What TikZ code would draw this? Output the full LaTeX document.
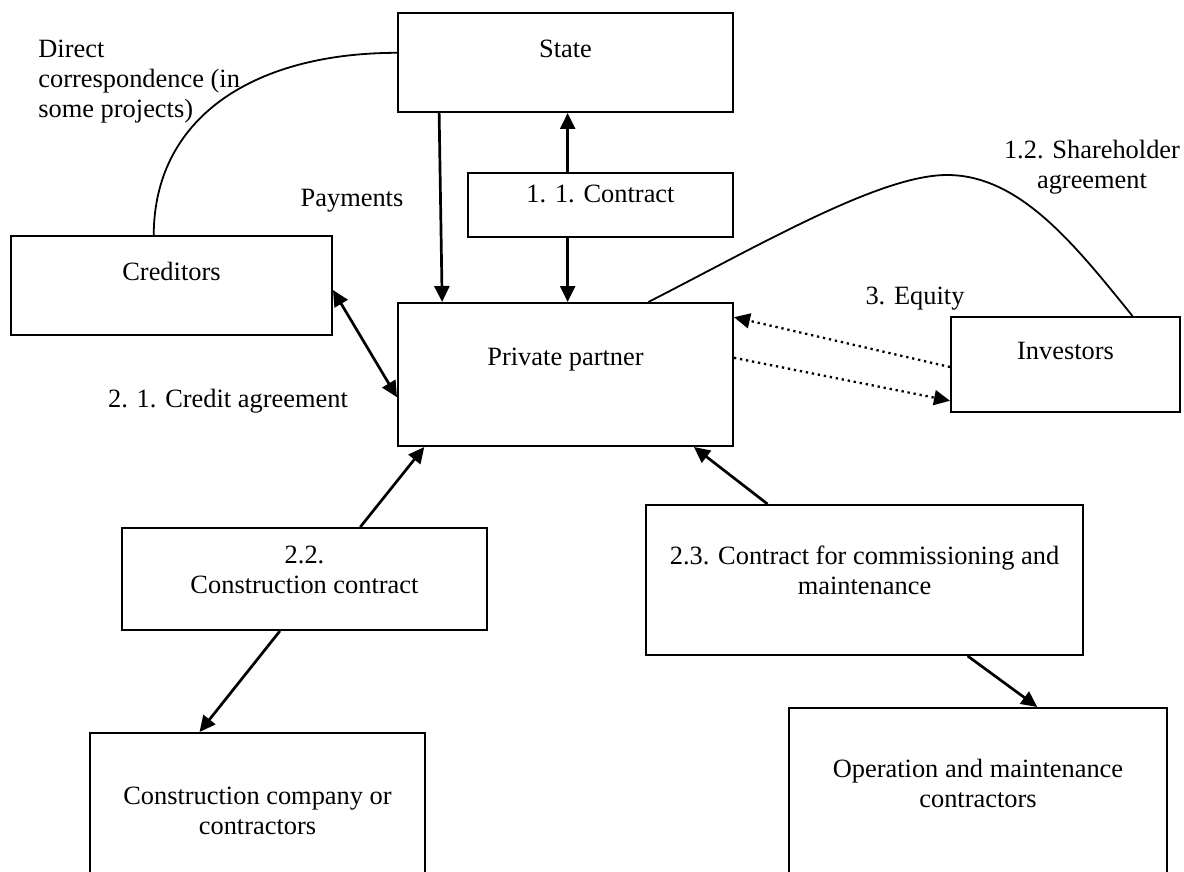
\documentclass[tikz,border=0pt]{standalone}
\usepackage{fontspec}
\setmainfont{Liberation Serif}
\usetikzlibrary{arrows.meta,fit,calc}
\newcommand\diagfont{\fontsize{13.2pt}{15pt}\selectfont}
\newcommand\upby[2]{\raisebox{#1}[\height][\depth]{#2}}
\begin{document}
\begin{tikzpicture}[x=0.5pt,y=-0.5pt,
  tip/.tip={Triangle[length=8pt,width=7.5pt]},
  box/.style={draw, line width=1pt, inner sep=0pt, align=center, font=\diagfont},
  lbl/.style={inner sep=0pt, font=\diagfont},
  arr/.style={line width=1.35pt, -tip},
  darr/.style={line width=1.35pt, tip-tip},
  dotarr/.style={line width=1.15pt, dash pattern=on 1.15pt off 1.9pt, -tip},
  curveline/.style={line width=0.9pt}]
\useasboundingbox (0,0) rectangle (1184,872);
\clip (0,0) rectangle (1184,872);
% boxes
\node[box, fit={(398,13) (733,112)}] (state) {\upby{2.6pt}{State}};
\node[box, fit={(468,173) (733,237)}] (contract) {\upby{1.25pt}{1. 1. Contract}};
\node[box, fit={(11,236) (332,335)}] (cred) {\upby{2.4pt}{Creditors}};
\node[box, fit={(398,303) (733,446)}] (pp) {\upby{2.9pt}{Private partner}};
\node[box, fit={(951,317) (1180,412)}] (inv) {\upby{2.6pt}{Investors}};
\node[box, fit={(122,528) (487,630)}] (cc22) {2.2.\\Construction contract};
\node[box, fit={(646,505) (1083,655)}] (om23) {2.3. Contract for commissioning and\\maintenance};
\node[box, fit={(90,733) (425,907)}] (ccomp) {Construction company or\\contractors};
\node[box, fit={(789,708) (1167,878)}] (omc) {Operation and maintenance\\contractors};
% free labels
\node[lbl, align=left, anchor=west] (dclbl) at (38,81.5) {Direct\\correspondence (in\\some projects)};
\node[lbl] (paylbl) at (352,201) {Payments};
\node[lbl, align=center] (shlbl) at (1092,167) {1.2. Shareholder\\agreement};
\node[lbl] (eqlbl) at (915,299) {3. Equity};
\node[lbl] (crlbl) at (228,401) {2. 1. Credit agreement};
% connectors
\draw[arr] ($(state.south west)!0.125!(state.south east)$) -- ($(pp.north west)!0.134!(pp.north east)$);
\coordinate (cu) at ($(contract.north west)!0.377!(contract.north east)$);
\draw[arr] (cu) -- (cu |- state.south);
\coordinate (cd) at ($(contract.south west)!0.377!(contract.south east)$);
\draw[arr] (cd) -- (cd |- pp.north);
\draw[darr] ($(cred.north east)!0.545!(cred.south east)$) -- ($(pp.north west)!0.657!(pp.south west)$);
\draw[arr] ($(cc22.north west)!0.652!(cc22.north east)$) -- ($(pp.south west)!0.081!(pp.south east)$);
\draw[arr] ($(cc22.south west)!0.433!(cc22.south east)$) -- ($(ccomp.north west)!0.328!(ccomp.north east)$);
\draw[arr] ($(om23.north west)!0.279!(om23.north east)$) -- ($(pp.south west)!0.881!(pp.south east)$);
\draw[arr] ($(om23.south west)!0.735!(om23.south east)$) -- ($(omc.north west)!0.656!(omc.north east)$);
\draw[dotarr] ($(inv.north west)!0.526!(inv.south west)$) -- ($(pp.north east)!0.105!(pp.south east)$);
\draw[dotarr] ($(pp.north east)!0.385!(pp.south east)$) -- ($(inv.north west)!0.874!(inv.south west)$);
\draw[curveline] ($(state.north west)!0.404!(state.south west)$) .. controls (250,53) and (154,120) .. ($(cred.north west)!0.445!(cred.north east)$);
\draw[curveline] ($(pp.north west)!0.746!(pp.north east)$) .. controls (760,245) and (880,175) .. (947,175) .. controls (1020,175) and (1075,245) .. ($(inv.north west)!0.79!(inv.north east)$);
\end{tikzpicture}
\end{document}
